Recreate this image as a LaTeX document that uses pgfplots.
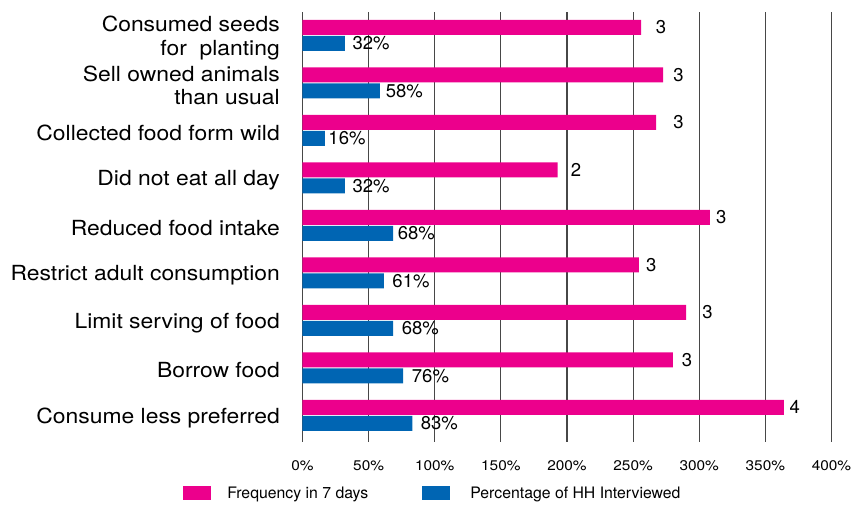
\documentclass[border=0pt]{standalone}
\usepackage{fontspec}
\setmainfont{TeX Gyre Heros}
\newfontfamily\stretched{TeX Gyre Heros}[FakeStretch=1.1]
\usepackage{pgfplots}
\pgfplotsset{compat=1.18}
\definecolor{mag}{RGB}{236,0,140}
\definecolor{blu}{RGB}{0,101,179}
\begin{document}
\begin{tikzpicture}
\begin{axis}[
  scale only axis, width=529pt, height=430pt,
  xmin=0, xmax=400, ymin=-0.56, ymax=8.493,
  axis line style={draw=none},
  major tick length=0pt,
  xtick={0,50,...,400},
  xticklabels={0\%,50\%,100\%,150\%,200\%,250\%,300\%,350\%,400\%},
  xmajorgrids, grid style={black!72, line width=1.1pt},
  ytick={0,...,8},
  yticklabels={Consume less preferred, Borrow food, Limit serving of food, Restrict adult consumption, Reduced food intake, Did not eat all day, Collected food form wild, {Sell owned animals\\than usual}, {Consumed seeds\\for\ \ planting}},
  yticklabel style={align=right, inner sep=0pt, font=\stretched\fontsize{20.8}{23.3}\selectfont, xshift=-22.5pt, yshift=-2.5pt},
  xticklabel style={inner sep=0pt, font=\stretched\fontsize{14}{16}\selectfont, yshift=-18pt},
  clip=false,
  legend columns=2,
  legend cell align=left,
  legend style={at={(0,0)}, anchor=west, xshift=-119.2pt, yshift=-51.5pt, draw=none, fill=none, inner sep=0pt, outer sep=0pt, font=\fontsize{15.8}{18}\selectfont, nodes={inner sep=0pt}, /tikz/every odd column/.append style={column sep=16pt}, /tikz/every even column/.append style={column sep=54pt}},
]
\addplot[xbar, bar width=15pt, bar shift=8pt, fill=mag, draw=none,
  legend image code/.code={\fill[mag] (0pt,-7pt) rectangle (28pt,7pt);}]
  coordinates {(364,0) (280,1) (290,2) (254.4,3) (308,4) (193,5) (267.3,6) (272.7,7) (256,8)};
\addlegendentry{Frequency in 7 days}
\addplot[xbar, bar width=15pt, bar shift=-8pt, fill=blu, draw=none,
  legend image code/.code={\fill[blu] (0pt,-7pt) rectangle (28pt,7pt);}]
  coordinates {(83,0) (76,1) (68.5,2) (61.5,3) (68.5,4) (32,5) (17,6) (58.5,7) (32,8)};
\addlegendentry{\hspace{4pt}Percentage of HH Interviewed}
% value labels for frequency
\addplot[forget plot, draw=none, nodes near coords, point meta=explicit symbolic,
  every node near coord/.append style={anchor=west, inner sep=0pt, yshift=8pt, font=\fontsize{18.5}{20}\selectfont}]
  coordinates {(368.1,0)[4] (286.7,1)[3] (302.3,2)[3] (259.7,3)[3] (312.7,4)[3] (202.8,5)[2] (280.2,6)[3] (280.2,7)[3] (267.1,8)[3]};
% value labels for percentage
\addplot[forget plot, draw=none, nodes near coords={\pgfplotspointmeta\%}, point meta=explicit symbolic,
  every node near coord/.append style={anchor=west, inner sep=0pt, yshift=-8pt, font=\fontsize{18.5}{20}\selectfont}]
  coordinates {(89.4,0)[83] (82.6,1)[76] (75.0,2)[68] (67.9,3)[61] (72.0,4)[68] (37.7,5)[32] (19.5,6)[16] (62.9,7)[58] (37.7,8)[32]};
\end{axis}
\pgfresetboundingbox
\path[use as bounding box] (current axis.south west) ++(-302.5pt,-63pt) rectangle ++(860pt,505pt);
\end{tikzpicture}
\end{document}
